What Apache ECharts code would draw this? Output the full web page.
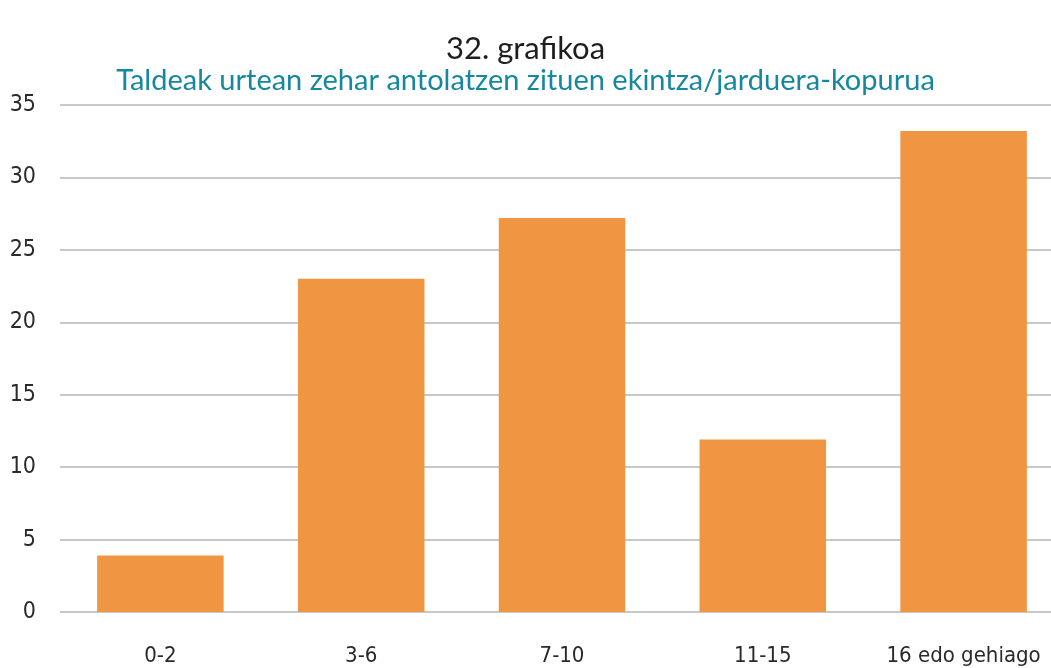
<!DOCTYPE html>
<html>
<head>
<meta charset="utf-8">
<script src="https://cdn.jsdelivr.net/npm/echarts@6/dist/echarts.min.js"></script>
<style>
  html, body { margin: 0; padding: 0; background: #fff; }
  #chart { width: 1051px; height: 668px; }
</style>
</head>
<body>
<div id="chart"></div>
<script>
// data
const categories = ['0-2', '3-6', '7-10', '11-15', '16 edo gehiago'];
const values = [3.9, 23.0, 27.2, 11.9, 33.2];
const yTicks = { min: 0, max: 35, interval: 5 };

const labelFont = '"DejaVu Sans Condensed", Roboto, sans-serif';

const chart = echarts.init(document.getElementById('chart'));

const option = {
    animation: false,
    title: [
        {
            text: '32. grafikoa',
            left: 'center',
            top: 28,
            textStyle: { fontFamily: 'Lato', fontWeight: 'normal', fontSize: 31, color: '#1e1e1e' }
        },
        {
            text: 'Taldeak urtean zehar antolatzen zituen ekintza/jarduera-kopurua',
            left: 'center',
            top: 61,
            textStyle: { fontFamily: 'Lato', fontWeight: 'normal', fontSize: 29, color: '#1587a0' }
        }
    ],
    // plot area runs a bit past the right edge, as in the source
    grid: { left: 60, right: -13, top: 105, bottom: 56, containLabel: false, outerBoundsMode: 'none' },
    xAxis: {
        type: 'category',
        data: categories,
        axisLine: { show: false },
        axisTick: { show: false },
        axisLabel: {
            interval: 0,
            margin: 33,
            fontFamily: labelFont,
            fontSize: 22,
            color: '#2a2a2a'
        }
    },
    yAxis: {
        type: 'value',
        min: yTicks.min,
        max: yTicks.max,
        interval: yTicks.interval,
        axisLine: { show: false },
        axisTick: { show: false },
        splitLine: { lineStyle: { color: '#c8c8c8', width: 2 } },
        axisLabel: {
            margin: 24,
            fontFamily: labelFont,
            fontSize: 23,
            color: '#2a2a2a'
        }
    },
    series: [{
        type: 'bar',
        data: values,
        barWidth: '63%',
        itemStyle: { color: '#f09541' }
    }]
};

chart.setOption(option);
</script>
</body>
</html>
